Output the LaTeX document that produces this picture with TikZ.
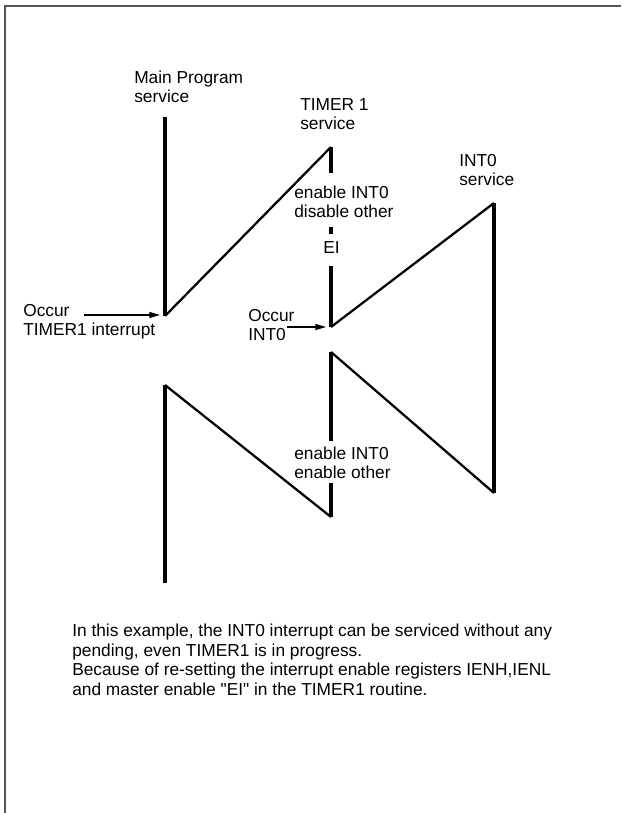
\documentclass[tikz,border=0pt]{standalone}
\usepackage{fontspec}
\setmainfont{Liberation Sans}
\usetikzlibrary{arrows.meta,positioning}
\definecolor{FrameGrey}{HTML}{555555}

\begin{document}
\begin{tikzpicture}[
    x=0.75pt, y=-0.75pt,
    seg/.style={
      line width=2.4pt,
      line cap=butt
    },
    slope/.style={
      line width=1.7pt,
      line join=miter
    },
    arr/.style={
      -{Triangle[length=8pt,width=4.5pt]},
      line width=0.8pt
    },
    lbl/.style={
      font=\fontsize{13}{14.6}\selectfont,
      align=left,
      inner sep=0pt,
      anchor=west
    }
  ]
  \useasboundingbox (0,0) rectangle (621,813);

  % frame
  \coordinate (fb) at (5,813);
  \coordinate (fr) at (621,6);
  \draw[FrameGrey, line width=1pt] (fb) |- (fr);

  % main program / TIMER1 / INT0 turning points
  \coordinate (m0) at (165,117);
  \coordinate (m1) at (165,316);
  \coordinate (t0) at (331,147);
  \coordinate (t1) at (331,173);
  \coordinate (t2) at (331,227);
  \coordinate (t3) at (331,234);
  \coordinate (t4) at (331,266);
  \coordinate (t5) at (331,327);
  \coordinate (i0) at (494,203);
  \coordinate (i1) at (494,493);
  \coordinate (u0) at (331,352);
  \coordinate (u1) at (331,441);
  \coordinate (u2) at (331,483);
  \coordinate (u3) at (331,517);
  \coordinate (m2) at (165,385);
  \coordinate (m3) at (165,583);

  \draw[seg] (m0) -- (m1);
  \draw[slope] (m1) -- (t0);
  \draw[seg] (t0) -- (t1);
  \draw[seg] (t2) -- (t3);
  \draw[seg] (t4) -- (t5);
  \draw[slope] (t5) -- (i0);
  \draw[seg] (i0) -- (i1);
  \draw[slope] (i1) -- (u0);
  \draw[seg] (u0) -- (u1);
  \draw[seg] (u2) -- (u3);
  \draw[slope] (u3) -- (m2);
  \draw[seg] (m2) -- (m3);

  % labels
  \node[lbl] (mainlbl) at (134,87) {Main Program\\service};
  \node[lbl] (timerlbl) at (300,114) {TIMER 1\\service};
  \node[lbl] (int0lbl) at (459,170) {INT0\\service};
  \node[lbl] (dislbl) at (294,202) {enable INT0\\disable other};
  \node[lbl] (eilbl) at (323,248) {EI};
  \node[lbl] (enlbl) at (294,463) {enable INT0\\enable other};

  % interrupt requests
  \node[lbl] (occtimer) at (23,322) {Occur\\TIMER1 interrupt};
  \node[lbl] (occint) at (248,325) {Occur\\INT0};
  \coordinate (a0) at (84,315);
  \coordinate (a1) at (160,315);
  \coordinate (b0) at (287,327);
  \coordinate (b1) at (326,327);
  \draw[arr] (a0) -- (a1);
  \draw[arr] (b0) -- (b1);

  \node[lbl, anchor=north west] (note) at (72,624)
    {In this example, the INT0 interrupt can be serviced without any\\
     pending, even TIMER1 is in progress.\\
     Because of re-setting the interrupt enable registers IENH,IENL\\
     and master enable \textquotedbl EI\textquotedbl{} in the TIMER1 routine.};

\end{tikzpicture}
\end{document}
